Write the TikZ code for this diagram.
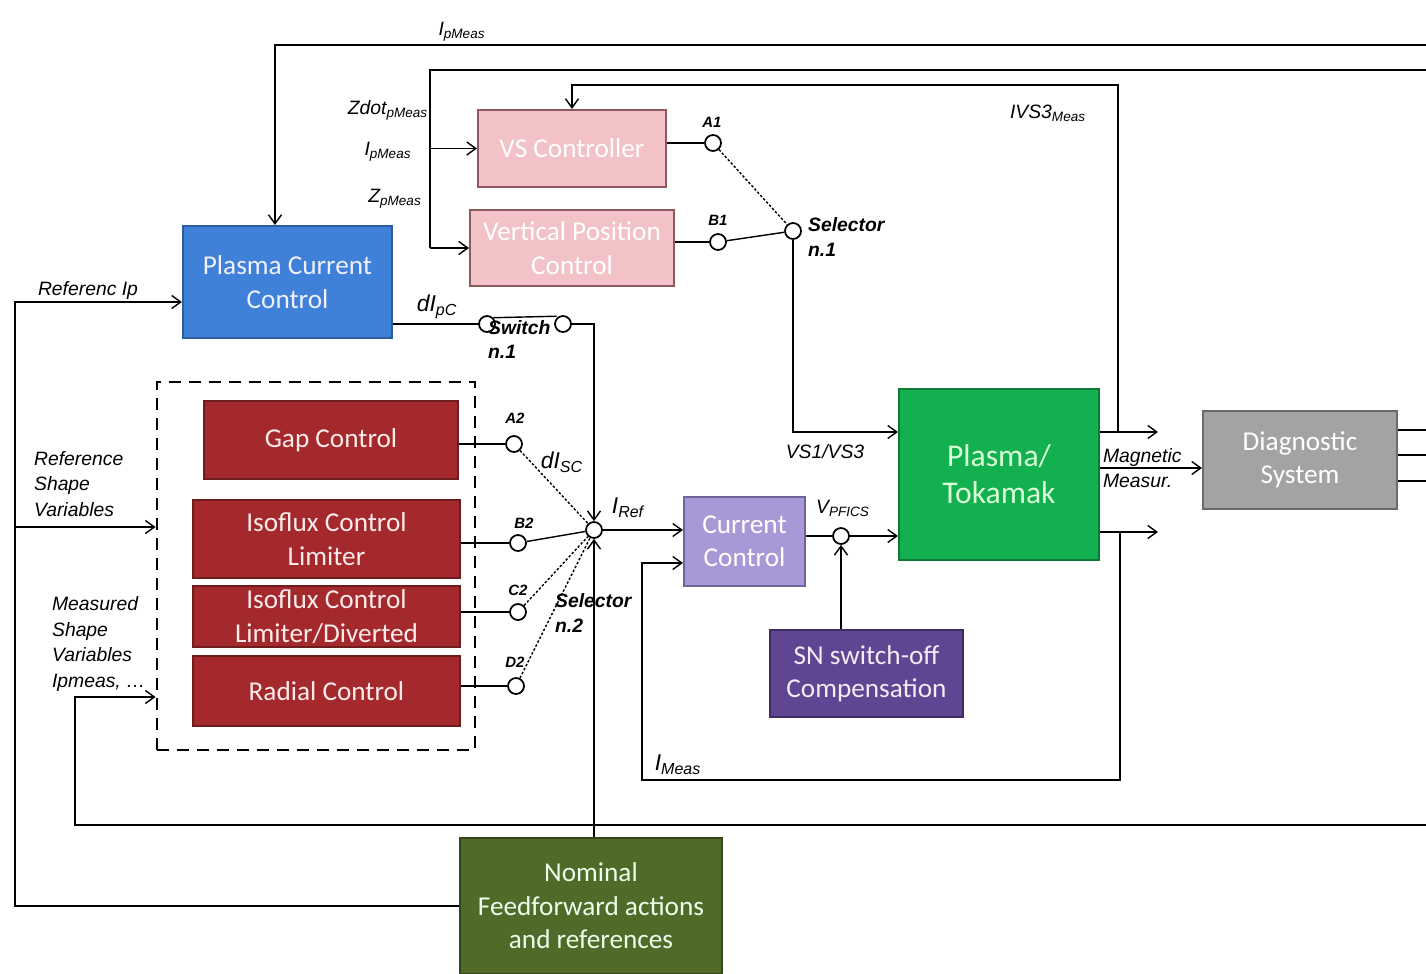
\documentclass[tikz,border=0pt]{standalone}
\usepackage{fontspec}
\setmainfont{Carlito}
\newfontfamily\labfont{Liberation Sans}
\usepackage{xcolor}
\definecolor{vspink}{HTML}{F2C2C7}
\definecolor{vspinkd}{HTML}{8E5A60}
\definecolor{ipblue}{HTML}{3F80D9}
\definecolor{ipblued}{HTML}{2C5C9C}
\definecolor{shred}{HTML}{A3292C}
\definecolor{shredd}{HTML}{6E1C1E}
\definecolor{cclav}{HTML}{A898D6}
\definecolor{cclavd}{HTML}{6F6398}
\definecolor{tkgreen}{HTML}{12B04E}
\definecolor{tkgreend}{HTML}{0C7A36}
\definecolor{dggray}{HTML}{A3A3A3}
\definecolor{dggrayd}{HTML}{6B6B6B}
\definecolor{snpurple}{HTML}{5F4592}
\definecolor{snpurpled}{HTML}{3E2C63}
\definecolor{ffolive}{HTML}{4F6A29}
\definecolor{ffolived}{HTML}{34471A}
\usetikzlibrary{arrows.meta,positioning,calc}
\newcommand{\sg}[2]{#1\textsubscript{#2}}
\tikzset{
  blk/.style={draw, align=center, font=\fontsize{15.5}{19}\selectfont,
              line width=1.2pt, inner sep=2pt},
  bpink/.style={blk, fill=vspink, draw=vspinkd, text=white},
  bblue/.style={blk, fill=ipblue, draw=ipblued, text=blue!6},
  bred/.style={blk, fill=shred, draw=shredd, text=red!8},
  blav/.style={blk, fill=cclav, draw=cclavd, text=white},
  bgreen/.style={blk, fill=tkgreen, draw=tkgreend, text=green!15,
                 font=\fontsize{18}{21}\selectfont},
  bgray/.style={blk, fill=dggray, draw=dggrayd, text=white},
  bpurple/.style={blk, fill=snpurple, draw=snpurpled, text=white!92!violet},
  bolive/.style={blk, fill=ffolive, draw=ffolived, text=white!92!green},
  frame/.style={draw, dash pattern=on 2.4mm off 1.6mm, line width=1.6pt},
  ln/.style={line width=0.8pt},
  ar/.style={ln, -{Straight Barb[length=1.8mm,width=2.6mm]}},
  dsh/.style={ln, dash pattern=on 1.4pt off 1.1pt},
  sw/.style={circle, draw, line width=1pt, fill=white, inner sep=0pt,
             minimum size=3.2mm},
  lbl/.style={font=\labfont\itshape\fontsize{11}{14.5}\selectfont,
              inner sep=1pt, align=left},
  lblb/.style={font=\labfont\itshape\fontsize{13}{15}\selectfont, inner sep=1pt},
  sel/.style={font=\labfont\bfseries\itshape\fontsize{11}{14}\selectfont,
              align=left, inner sep=1pt},
  pin/.style={font=\labfont\bfseries\itshape\fontsize{8.5}{9}\selectfont,
              inner sep=1pt},
}

\begin{document}
\begin{tikzpicture}[x=0.2mm, y=-0.2mm]
  \fill[white] (0,0) rectangle (1426,974);
  \useasboundingbox (0,0) rectangle (1426,974);

  % shape controllers group
  \node[frame, minimum width=63.6mm, minimum height=73.6mm] (frame) at (316,566) {};

  % blocks
  \node[bpink, minimum width=37.6mm, minimum height=15.4mm] (vsc) at (572,148.5) {VS Controller};
  \node[bpink, minimum width=40.8mm, minimum height=15.2mm] (vpc) at (572,248) {Vertical Position\\Control};
  \node[bblue, minimum width=41.8mm, minimum height=22.4mm] (pcc) at (287.5,282) {Plasma Current\\Control};
  \node[bred, minimum width=50.8mm, minimum height=15.6mm] (gap) at (331,440) {Gap Control};
  \node[bred, minimum width=53.4mm, minimum height=15.6mm] (iso1) at (326.5,539) {Isoflux Control\\Limiter};
  \node[bred, minimum width=53.4mm, minimum height=11.8mm] (iso2) at (326.5,616.5) {Isoflux Control\\Limiter/Diverted};
  \node[bred, minimum width=53.4mm, minimum height=14mm] (rad) at (326.5,691) {Radial Control};
  \node[blav, minimum width=24.2mm, minimum height=17.8mm] (cc) at (744.5,541.5) {Current\\Control};
  \node[bgreen, minimum width=40mm, minimum height=34.2mm] (plasma) at (999,474.5) {Plasma/\\Tokamak};
  \node[bgray, minimum width=38.8mm, minimum height=19.6mm] (diag) at (1300,460) {Diagnostic\\System};
  \node[bpurple, minimum width=38.6mm, minimum height=17.4mm] (sn) at (866.5,673.5) {SN switch-off\\Compensation};
  \node[bolive, minimum width=52.4mm, minimum height=27.2mm] (nom) at (591,906) {Nominal\\Feedforward actions\\and references};

  % switch contacts
  \node[sw] (a1) at (713,143) {};
  \node[sw] (b1) at (718,242) {};
  \node[sw] (s1) at (793,231) {};
  \node[sw] (p1) at (487,324) {};
  \node[sw] (p2) at (563,324) {};
  \node[sw] (a2) at (514,444) {};
  \node[sw] (b2) at (518,543) {};
  \node[sw] (c2) at (518,612) {};
  \node[sw] (d2) at (516,686) {};
  \node[sw] (s2) at (594,530) {};
  \node[sw] (vs) at (841,536) {};

  % helper points
  \coordinate (r1) at (1426,45);
  \coordinate (r2) at (1426,70);
  \coordinate (r3) at (1426,825);
  \coordinate (zt) at (430,248);
  \coordinate (vsin) at ([yshift=8.5mm]plasma.west);
  \coordinate (o1) at (1158,432);
  \coordinate (o3) at (1158,532);
  \coordinate (fbvs) at (1118,432);
  \coordinate (fbim) at (1120,532);
  \coordinate (imc) at (642,780);
  \coordinate (mc) at (75,697);
  \coordinate (lc) at (15,527);

  % measurements from the right
  \draw[ar] (r1) -| ([xshift=-2.5mm]pcc.north);
  \draw[ln] (r2) -| (zt);
  \draw[ar] (zt |- vsc.west) -- (vsc.west);
  \draw[ar] (zt) -- (vpc.west);
  \draw[ar] (fbvs) -- ++(0,-347) -| (vsc.north);

  % selector n.1
  \draw[ln] (a1 -| vsc.east) -- (a1);
  \draw[ln] (b1 -| vpc.east) -- (b1);
  \draw[dsh] (a1) -- (s1);
  \draw[ln] (b1) -- (s1);
  \draw[ar] (s1) |- (vsin);

  % switch n.1
  \draw[ln] (p1 -| pcc.east) -- (p1);
  \draw[ln] (p1.north east) -- ([yshift=0.3mm]p2.north west);
  \draw[ar] (p2) -| (s2);
  \draw[ar] (nom.north -| s2) -- (s2);

  % selector n.2
  \draw[ln] (a2 -| gap.east) -- (a2);
  \draw[ln] (b2 -| iso1.east) -- (b2);
  \draw[ln] (c2 -| iso2.east) -- (c2);
  \draw[ln] (d2 -| rad.east) -- (d2);
  \draw[dsh] (a2) -- (s2);
  \draw[ln] (b2) -- (s2);
  \draw[dsh] (c2) -- (s2);
  \draw[dsh] (d2) -- (s2);
  \draw[ar] (s2) -- (cc.west |- s2);

  % current loop
  \draw[ln] (cc.east |- vs) -- (vs);
  \draw[ar] (vs) -- (plasma.west |- vs);
  \draw[ar] (sn.north -| vs) -- (vs);
  \draw[ar] (fbim) |- (imc) |- ([yshift=-4.3mm]cc.west);

  % plasma outputs and diagnostics
  \draw[ar] (plasma.east |- o1) -- (o1);
  \draw[ar] (plasma.east |- o3) -- (o3);
  \draw[ar] ([yshift=-1.6mm]diag.west -| plasma.east) -- ([yshift=-1.6mm]diag.west);
  \foreach \yy in {430,455,481} {
    \coordinate (dq) at (1426,\yy);
    \draw[ln] (diag.east |- dq) -- (dq);
  }

  % references and shape measurements
  \draw[ar] (r3) -| (mc) -- (frame.west |- mc);
  \draw[ar] (nom.west) -| (lc) |- ([yshift=-4mm]pcc.west);
  \draw[ar] (lc) -- (frame.west |- lc);

  % signal labels
  \node[lbl] (lipm) at (462,32) {\sg{I}{pMeas}};
  \node[lbl] (lzd) at (388,110) {\sg{Zdot}{pMeas}};
  \node[lbl] (lip) at (388,152) {\sg{I}{pMeas}};
  \node[lbl] (lzp) at (395,199) {\sg{Z}{pMeas}};
  \node[lbl] (livs) at (1048,113) {\sg{IVS3}{Meas}};
  \node[lblb] (ldipc) at (437,307) {\sg{dI}{pC}};
  \node[lblb] (ldisc) at (562,462) {\sg{dI}{SC}};
  \node[lblb] (liref) at (628,508) {\sg{I}{Ref}};
  \node[lbl] (lvpf) at (843,508) {\sg{V}{PFICS}};
  \node[lblb] (limeas) at (678,765) {\sg{I}{Meas}};
  \node[lbl] (lvs13) at (825,452) {VS1/VS3};
  \node[lbl, anchor=west] (lmag) at (1101,468) {Magnetic\\Measur.};
  \node[lbl] (lrip) at (88,290) {Referenc Ip};
  \node[lbl, anchor=west] (lrsv) at (32,484) {Reference\\Shape\\Variables};
  \node[lbl, anchor=west] (lmsv) at (50,644) {Measured\\Shape\\Variables\\Ipmeas, \dots};

  % switch labels
  \node[pin] at (712,122) {A1};
  \node[pin] at (718,220) {B1};
  \node[pin] at (515,418) {A2};
  \node[pin] at (524,523) {B2};
  \node[pin] at (518,590) {C2};
  \node[pin] at (515,662) {D2};
  \node[sel, anchor=west] (lsel1) at (806,237) {Selector\\n.1};
  \node[sel, anchor=north west] (lswi) at (486,318) {Switch\\n.1};
  \node[sel, anchor=west] (lsel2) at (553,613) {Selector\\n.2};
\end{tikzpicture}
\end{document}
